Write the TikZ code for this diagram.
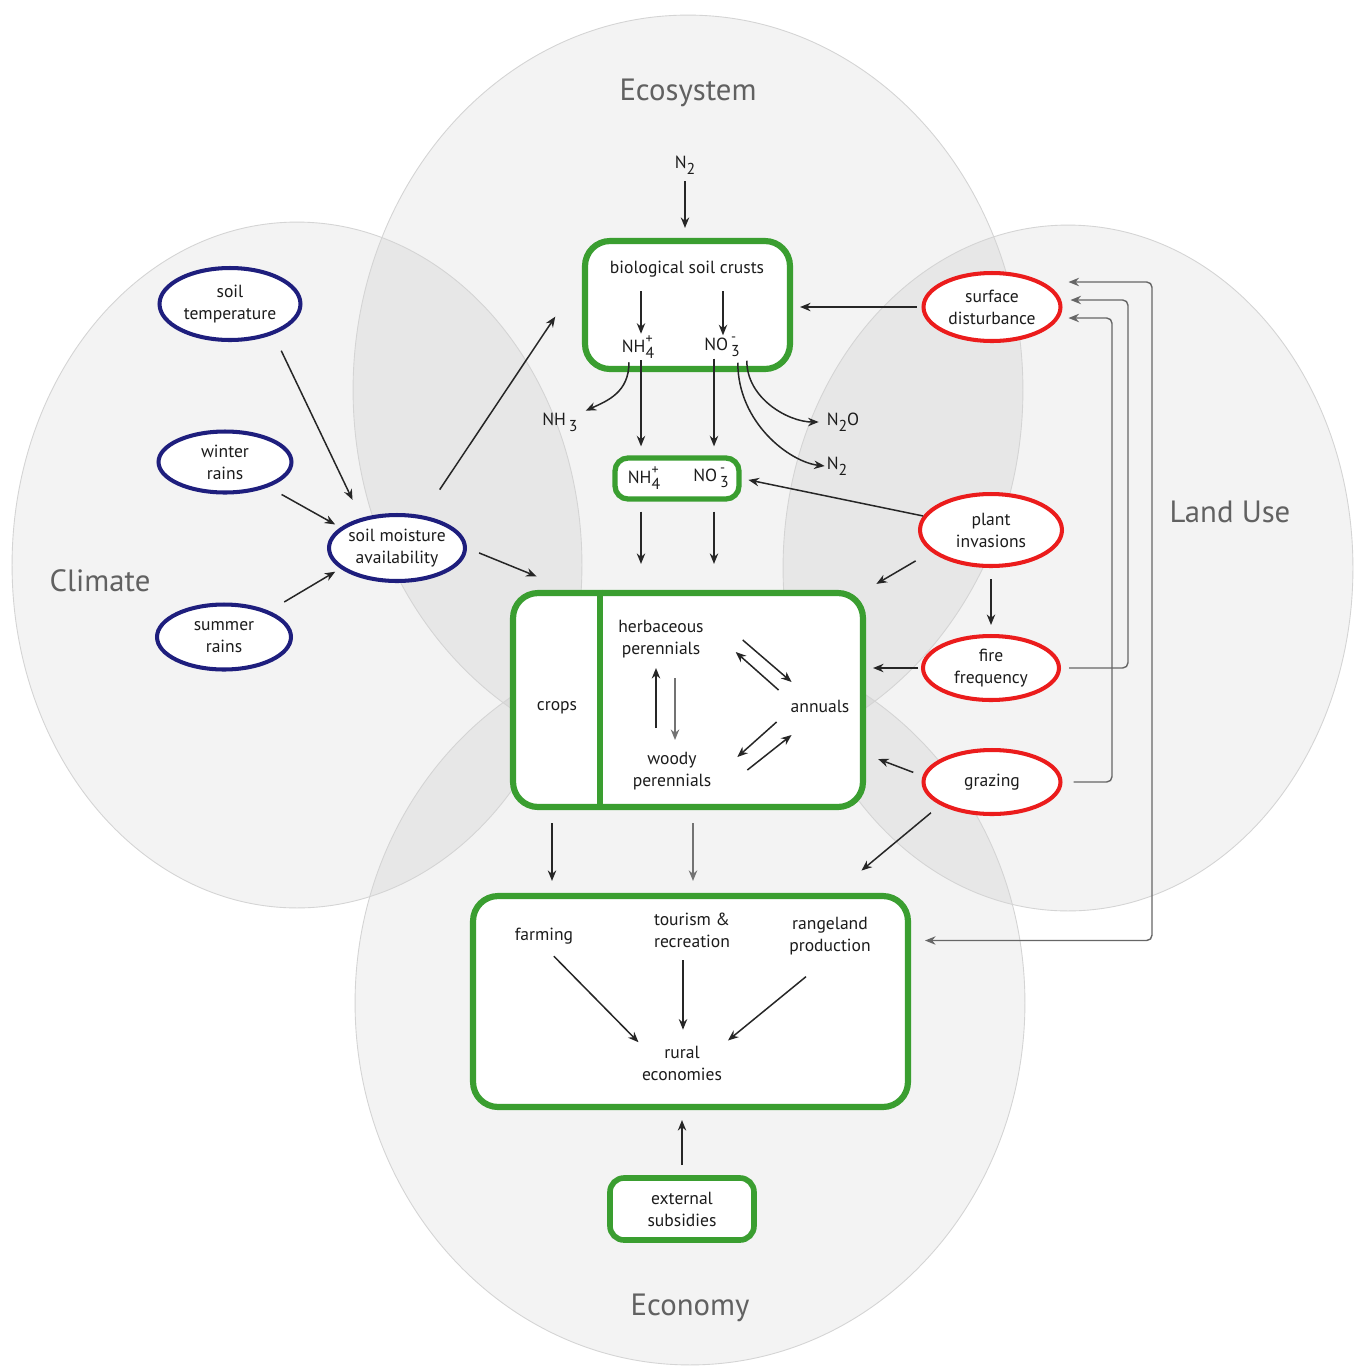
\documentclass[tikz,border=0pt]{standalone}
\usepackage{fontspec}
\setmainfont{PT Sans}
\usetikzlibrary{shapes.geometric,arrows.meta,calc}
\definecolor{cgreen}{RGB}{58,158,48}
\definecolor{cblue}{RGB}{30,30,125}
\definecolor{cred}{RGB}{235,28,28}
\definecolor{ctext}{RGB}{28,28,28}
\newcommand{\mysub}[1]{\raisebox{-0.65ex}{\small #1}}
\newcommand{\mysup}[1]{\raisebox{1.0ex}{\footnotesize #1}}
\newcommand{\mysubsup}[2]{\rlap{\mysup{#2}}\mysub{#1}}
\begin{document}
\begin{tikzpicture}[x=0.02cm,y=-0.02cm,
  >={Stealth[length=6pt,width=4.8pt]},
  txt/.style={font=\fontsize{10}{12.5}\selectfont, text=ctext, align=center, inner sep=1pt},
  big/.style={font=\fontsize{17.5}{20}\selectfont, text=black!62},
  zone/.style={fill=black, fill opacity=0.048},
  zoneline/.style={draw=black!17, line width=0.5pt},
  bell/.style={txt, ellipse, draw=cblue, line width=2.3pt, fill=white, inner sep=-5pt},
  rell/.style={txt, ellipse, draw=cred, line width=2.3pt, fill=white, inner sep=-5pt},
  gbox/.style={draw=cgreen, line width=3.5pt, fill=white, rounded corners=0.5cm},
  arr/.style={->, line width=0.85pt, draw=black!85},
  garr/.style={->, line width=0.8pt, draw=black!60},
  thickarr/.style={->, line width=1.6pt, draw=black!55},
]
\fill[white] (0,0) rectangle (1356,1367);
\useasboundingbox (0,0) rectangle (1356,1367);

% four domains
\fill[zone] (688,390) ellipse [x radius=6.70cm, y radius=7.50cm];
\fill[zone] (297,565) ellipse [x radius=5.70cm, y radius=6.86cm];
\fill[zone] (1068,568) ellipse [x radius=5.70cm, y radius=6.86cm];
\fill[zone] (690,1003) ellipse [x radius=6.70cm, y radius=7.24cm];
\draw[zoneline] (688,390) ellipse [x radius=6.70cm, y radius=7.50cm];
\draw[zoneline] (297,565) ellipse [x radius=5.70cm, y radius=6.86cm];
\draw[zoneline] (1068,568) ellipse [x radius=5.70cm, y radius=6.86cm];
\draw[zoneline] (690,1003) ellipse [x radius=6.70cm, y radius=7.24cm];

\node[big] (lEco) at (688,93) {Ecosystem};
\node[big] (lClim) at (100,581) {Climate};
\node[big] (lLand) at (1230,512) {Land Use};
\node[big] (lEcon) at (690,1308) {Economy};

% green boxes
\node[gbox, minimum width=4.1cm, minimum height=2.56cm] (bsc) at (687.5,305) {};
\node[gbox, rounded corners=0.26cm, line width=3pt, minimum width=2.48cm, minimum height=0.82cm] (sbox) at (677,478.5) {};
\node[gbox, minimum width=7.0cm, minimum height=4.28cm] (plants) at (688,700) {};
\draw[draw=cgreen, line width=3.5pt] ($(plants.north west)+(90,0)$) -- ($(plants.south west)+(90,0)$);
\node[gbox, minimum width=8.7cm, minimum height=4.22cm] (econ) at (690.5,1001.5) {};
\node[gbox, txt, rounded corners=0.28cm, line width=3.2pt, minimum width=2.88cm, minimum height=1.24cm] (ext) at (682,1209) {external\\subsidies};

% texts
\node[txt] (n2) at (685,165) {N\mysub{2}};
\node[txt] (bsct) at (687,269) {biological soil crusts};
\node[txt] (nh4a) at (638,347) {NH\mysubsup{4}{+}};
\node[txt] (no3a) at (722,347) {NO\,\mysubsup{3}{-}};
\node[txt] (nh3) at (560,422) {NH\,\mysub{3}};
\node[txt] (n2o) at (843,422) {N\mysub{2}O};
\node[txt] (n2b) at (837,466) {N\mysub{2}};
\node[txt] (nh4b) at (644,478) {NH\mysubsup{4}{+}};
\node[txt] (no3b) at (711,478) {NO\,\mysubsup{3}{-}};
\node[txt] (crops) at (557,708) {crops};
\node[txt] (hp) at (661,639) {herbaceous\\perennials};
\node[txt] (wp) at (672,771) {woody\\perennials};
\node[txt] (ann) at (820,706) {annuals};
\node[txt] (farm) at (544,936) {farming};
\node[txt] (tour) at (692,930) {tourism \&\\recreation};
\node[txt] (range) at (830,936) {rangeland\\production};
\node[txt] (rural) at (682,1063) {rural\\economies};

% ellipses
\node[bell, minimum width=2.82cm, minimum height=1.44cm] (st) at (230,304) {soil\\temperature};
\node[bell, minimum width=2.66cm, minimum height=1.22cm] (wr) at (225,462) {winter\\rains};
\node[bell, minimum width=2.68cm, minimum height=1.30cm] (sr) at (224,637) {summer\\rains};
\node[bell, minimum width=2.72cm, minimum height=1.32cm] (sm) at (397,548) {soil moisture\\availability};
\node[rell, minimum width=2.74cm, minimum height=1.36cm] (sd) at (992,307) {surface\\disturbance};
\node[rell, minimum width=2.84cm, minimum height=1.44cm] (pi) at (991,530) {plant\\invasions};
\node[rell, minimum width=2.72cm, minimum height=1.28cm] (ff) at (991,668) {fire\\frequency};
\node[rell, minimum width=2.74cm, minimum height=1.28cm] (gz) at (992,782) {grazing};

% nitrogen cycle
\draw[arr, shorten <=0.1cm, shorten >=0.2cm] (n2.south) -- (n2.south |- bsc.north);
\draw[arr] ($(nh4a.north |- bsct.south)+(3,12)$) -- ($(nh4a.north)+(3,0)$);
\draw[arr] ($(no3a.north |- bsct.south)+(1,12)$) -- ($(no3a.north)+(1,0)$);
\draw[arr] ($(nh4a.south)+(3,0)$) -- ($(nh4a.south |- sbox.north)+(3,-9)$);
\draw[arr] ($(no3a.south)+(-8,0)$) -- ($(no3a.south |- sbox.north)+(-8,-9)$);
\draw[arr] ($(nh4a.south)+(-9,2)$) .. controls +(0,30) and +(22,-10) .. ($(nh3.north east)+(6,0)$);
\draw[arr] ($(no3a.south east)+(5,2)$) .. controls +(0,38) and +(-30,0) .. ($(n2o.west)+(-6,0)$);
\draw[arr] ($(no3a.south east)+(-4,4)$) .. controls +(0,60) and +(-35,-4) .. ($(n2b.west)+(0,0)$);
\draw[arr] ($(sbox.south -| nh4a)+(3,10)$) -- ($(plants.north -| nh4a)+(3,-26)$);
\draw[arr] ($(sbox.south -| no3a)+(-8,10)$) -- ($(plants.north -| no3a)+(-8,-26)$);

% climate
\draw[arr, shorten <=0.36cm, shorten >=0.4cm] (st.-35) -- (sm.140);
\draw[arr, shorten <=0.3cm, shorten >=0.12cm] (wr.-30) -- (sm.160);
\draw[arr, shorten <=0.35cm, shorten >=0.12cm] (sr.30) -- (sm.200);
\draw[arr, shorten <=0.62cm, shorten >=0.96cm] (sm.52) -- (bsc.165);
\draw[arr, shorten <=0.26cm, shorten >=0.72cm] (sm.0) -- (plants.137);

% land use
\draw[arr, shorten <=0.1cm, shorten >=0.14cm] (sd.west) -- (bsc.east |- sd.west);
\draw[arr, shorten >=0.14cm] (pi) -- (sbox.east);
\draw[arr, shorten <=0.36cm, shorten >=0.24cm] (pi.200) -- (plants.north east);
\draw[arr, shorten <=0.22cm, shorten >=0.18cm] (pi.south) -- (ff.north);
\draw[arr, shorten <=0.06cm, shorten >=0.14cm] (ff.west) -- (plants.east |- ff.west);
\draw[arr, shorten <=0.2cm, shorten >=0.26cm] (gz.175) -- (plants.-17);
\draw[arr, shorten <=0.24cm, shorten >=0.7cm] (gz.204) -- (econ.37);

\coordinate (tipA) at ($(sd.east)+(6,-25)$);
\coordinate (tipB) at ($(sd.east)+(8,-7)$);
\coordinate (tipC) at ($(sd.east)+(6,11)$);
\coordinate (railA) at (1152,0);
\coordinate (railB) at (1128,0);
\coordinate (railC) at (1112,0);
\coordinate (econTip) at ($(econ.east)+(14,-61)$);
\draw[garr, rounded corners=3pt, shorten <=0.16cm] (ff.east) -| (railB |- tipB) -- (tipB);
\draw[garr, rounded corners=3pt, shorten <=0.22cm] (gz.east) -| (railC |- tipC) -- (tipC);
\draw[garr, <->, rounded corners=3pt] (tipA) -- (railA |- tipA) -- (railA |- econTip) -- (econTip);

% plants
\draw[arr] ($(hp.east)+(37,1)$) -- ($(ann.west)+(3,-24)$);
\draw[arr] ($(ann.west)+(-10,-16)$) -- ($(hp.east)+(30,13)$);
\draw[arr] ($(ann.west)+(-12,16)$) -- ($(wp.east)+(24,-14)$);
\draw[arr] ($(wp.east)+(34,-1)$) -- ($(ann.west)+(3,29)$);
\draw[arr] ($(wp.north)+(-16,-22)$) -- ($(hp.south)+(-5,8)$);
\draw[thickarr] ($(hp.south)+(14,18)$) -- ($(wp.north)+(3,-10)$);

% plants -> economy
\draw[arr] ($(plants.south -| crops)+(-5,13)$) -- ($(econ.north -| crops)+(-5,-12)$);
\draw[thickarr] ($(plants.south -| tour)+(1,13)$) -- ($(econ.north -| tour)+(1,-12)$);

% economy
\draw[arr, shorten <=0.28cm, shorten >=0.04cm] (farm.south) -- (rural.north west);
\draw[arr] ($(rural.north |- tour.south)+(1,11)$) -- ($(rural.north)+(1,-14)$);
\draw[arr, shorten <=0.62cm, shorten >=0.1cm] (range.south) -- (rural.north east);
\draw[arr, shorten <=0.2cm, shorten >=0.2cm] (ext.north) -- (ext.north |- econ.south);
\end{tikzpicture}
\end{document}
